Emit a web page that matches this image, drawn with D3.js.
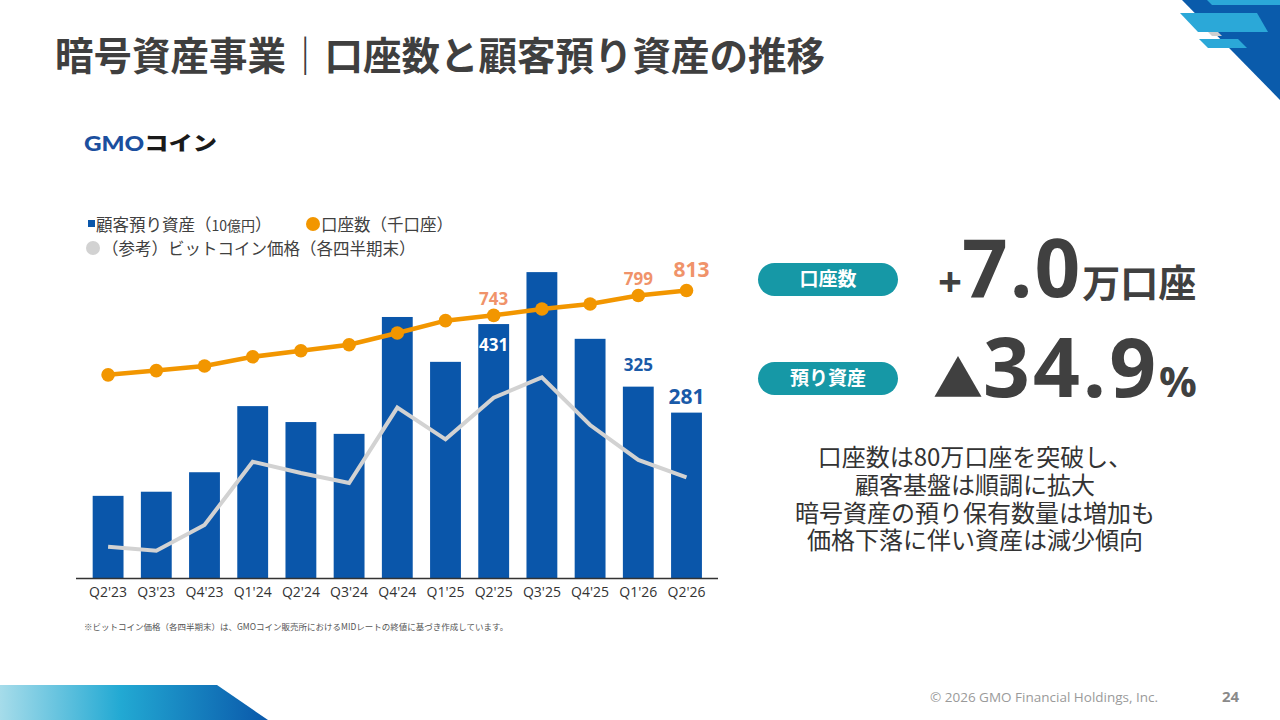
<!DOCTYPE html>
<html lang="ja">
<head>
<meta charset="utf-8">
<script src="https://cdn.jsdelivr.net/npm/d3@7"></script>
<style>
  html, body { margin: 0; padding: 0; background: #fff; }
  svg { display: block; }
  text { font-family: "Open Sans", "Noto Sans CJK JP", sans-serif; }
  .jp { font-family: "Noto Sans CJK JP", "Open Sans", sans-serif; }
</style>
</head>
<body>
<div id="chart"></div>
<script>
// quarters on the x axis
var quarters = ["Q2'23", "Q3'23", "Q4'23", "Q1'24", "Q2'24", "Q3'24", "Q4'24",
                "Q1'25", "Q2'25", "Q3'25", "Q4'25", "Q1'26", "Q2'26"];

// customer assets (10億円), bars
var assets = [140, 147, 180, 292, 265, 245, 443, 367, 431, 519, 406, 325, 281];

// accounts (千口座), orange line
var accounts = [575, 587, 600, 626, 643, 660, 693, 728, 743, 761, 775, 799, 813];

// bitcoin price at quarter end (万円), reference grey line
var btcPrice = [440, 410, 600, 1067, 984, 910, 1466, 1232, 1539, 1690, 1338, 1080, 952];

// which points get a value label
var assetLabels = { "Q2'25": "inside", "Q1'26": "above", "Q2'26": "above" };
var accountLabels = ["Q2'25", "Q1'26", "Q2'26"];

var summaryLines = ["口座数は80万口座を突破し、", "顧客基盤は順調に拡大",
                    "暗号資産の預り保有数量は増加も", "価格下落に伴い資産は減少傾向"];

var svgWidth = 1280;
var svgHeight = 720;

var blue = "#0a56aa";
var orange = "#f29600";
var orangeText = "#f0936a";
var grey = "#d2d2d2";
var teal = "#1698a6";
var dark = "#404040";

var svg = d3.select("#chart")
    .append("svg")
    .attr("width", svgWidth)
    .attr("height", svgHeight);

// ---- decorations ----
var defs = svg.append("defs");
var grad = defs.append("linearGradient").attr("id", "footGrad");
grad.append("stop").attr("offset", "0%").attr("stop-color", "#a6dcea");
grad.append("stop").attr("offset", "45%").attr("stop-color", "#22a9d3");
grad.append("stop").attr("offset", "100%").attr("stop-color", "#0a58aa");

svg.append("polygon")
    .attr("points", "0,685 217,685 268,720 0,720")
    .attr("fill", "url(#footGrad)");

svg.append("polygon")
    .attr("points", "1182,0 1280,0 1280,100")
    .attr("fill", "#0a5bab");
svg.append("polygon")
    .attr("points", "1207,0 1280,0 1280,5 1212,5")
    .attr("fill", "#2ba8d8");
svg.append("polygon")
    .attr("points", "1180,13 1257,13 1268,32 1198,32")
    .attr("fill", "#2ba8d8");
svg.append("polygon")
    .attr("points", "1199,39 1238,39 1247,48 1208,48")
    .attr("fill", "#2ba8d8");
svg.append("polygon")
    .attr("points", "1208,32 1218,32 1222,36 1212,36")
    .attr("fill", "#cfcfcf");

// ---- title ----
svg.append("text")
    .attr("class", "jp")
    .attr("x", 55)
    .attr("y", 70)
    .attr("font-size", 38.5)
    .attr("font-weight", 700)
    .attr("fill", "#3f3f3f")
    .text("暗号資産事業｜口座数と顧客預り資産の推移");

// logo
var logo = svg.append("text")
    .attr("x", 84)
    .attr("y", 151)
    .attr("font-size", 20)
    .attr("font-weight", 800)
    .attr("textLength", 133)
    .attr("lengthAdjust", "spacingAndGlyphs");
logo.append("tspan").attr("fill", "#1b4f9e").attr("font-family", "Lato, 'Open Sans', sans-serif").attr("font-weight", 900).text("GMO");
logo.append("tspan").attr("class", "jp").attr("fill", "#1a1a1a").attr("font-weight", 900).text("コイン");

// ---- legend ----
var legend = svg.append("g").attr("fill", dark);
legend.append("rect").attr("x", 88).attr("y", 220).attr("width", 7).attr("height", 7).attr("fill", blue);
var l1 = legend.append("text").attr("class", "jp").attr("x", 96).attr("y", 231).attr("font-size", 16.5);
l1.append("tspan").text("顧客預り資産（");
l1.append("tspan").attr("font-size", 14).text("10億円");
l1.append("tspan").text("）");
legend.append("circle").attr("cx", 313).attr("cy", 224).attr("r", 7).attr("fill", orange);
legend.append("text").attr("class", "jp").attr("x", 321).attr("y", 231).attr("font-size", 16.5).text("口座数（千口座）");
legend.append("circle").attr("cx", 93).attr("cy", 248).attr("r", 7).attr("fill", grey);
legend.append("text").attr("class", "jp").attr("x", 102).attr("y", 255).attr("font-size", 16.5).text("（参考）ビットコイン価格（各四半期末）");

// ---- chart ----
var baseY = 578.5;
var topY = 224.3;

var x = d3.scaleBand()
    .domain(quarters)
    .range([84, 710.6])
    .paddingInner(0.36)
    .paddingOuter(0.18);

var yAssets = d3.scaleLinear().domain([0, 600]).range([baseY, topY]);
var yAccounts = d3.scaleLinear().domain([0, 1000]).range([baseY, topY]);
var yBtc = d3.scaleLinear().domain([0, 2000]).range([606.3, 335.3]);

var chartGroup = svg.append("g");

chartGroup.selectAll("rect.bar")
    .data(quarters)
    .enter()
    .append("rect")
    .attr("class", "bar")
    .attr("x", d => x(d))
    .attr("width", x.bandwidth())
    .attr("y", (d, i) => yAssets(assets[i]))
    .attr("height", (d, i) => baseY - yAssets(assets[i]))
    .attr("fill", blue);

var cx = d => x(d) + x.bandwidth() / 2;

// bitcoin price line
var btcLine = d3.line()
    .x(d => cx(d))
    .y((d, i) => yBtc(btcPrice[i]));
chartGroup.append("path")
    .datum(quarters)
    .attr("d", btcLine)
    .attr("fill", "none")
    .attr("stroke", grey)
    .attr("stroke-width", 4);

// accounts line
var accLine = d3.line()
    .x(d => cx(d))
    .y((d, i) => yAccounts(accounts[i]));
chartGroup.append("path")
    .datum(quarters)
    .attr("d", accLine)
    .attr("fill", "none")
    .attr("stroke", orange)
    .attr("stroke-width", 4.5);

chartGroup.selectAll("circle.acc")
    .data(quarters)
    .enter()
    .append("circle")
    .attr("class", "acc")
    .attr("cx", d => cx(d))
    .attr("cy", (d, i) => yAccounts(accounts[i]))
    .attr("r", 6.8)
    .attr("fill", orange);

// x axis
var bottomAxis = d3.axisBottom(x).tickSize(0).tickPadding(9);
var xAxis = chartGroup.append("g")
    .attr("transform", `translate(0, ${baseY})`)
    .call(bottomAxis);
xAxis.select(".domain").remove();
xAxis.selectAll("text")
    .attr("font-family", "'Open Sans', sans-serif")
    .attr("font-size", 14)
    .attr("fill", "#333");
chartGroup.append("line")
    .attr("x1", 76).attr("x2", 718)
    .attr("y1", baseY).attr("y2", baseY)
    .attr("stroke", "#333")
    .attr("stroke-width", 1.3);

// value labels on the bars
quarters.forEach(function (q, i) {
    var pos = assetLabels[q];
    if (!pos) return;
    var last = i === quarters.length - 1;
    chartGroup.append("text")
        .attr("x", cx(q))
        .attr("y", pos === "inside" ? yAssets(assets[i]) + 27 : yAssets(assets[i]) - (last ? 9 : 16))
        .attr("text-anchor", "middle")
        .attr("font-size", last ? 21 : 17)
        .attr("font-weight", 700)
        .attr("fill", pos === "inside" ? "#fff" : "#1a5aa8")
        .text(assets[i]);
});

// value labels on the accounts line
accountLabels.forEach(function (q) {
    var i = quarters.indexOf(q);
    var last = i === quarters.length - 1;
    chartGroup.append("text")
        .attr("x", cx(q) + (last ? 5 : 0))
        .attr("y", yAccounts(accounts[i]) - (last ? 14 : 10))
        .attr("text-anchor", "middle")
        .attr("font-size", last ? 21 : 17)
        .attr("font-weight", 700)
        .attr("fill", orangeText)
        .text(accounts[i]);
});

// footnote
svg.append("text")
    .attr("class", "jp")
    .attr("x", 84)
    .attr("y", 630)
    .attr("font-size", 8.5)
    .attr("fill", "#555")
    .text("※ビットコイン価格（各四半期末）は、GMOコイン販売所におけるMIDレートの終値に基づき作成しています。");

// ---- right panel ----
function pill(y, label) {
    svg.append("rect")
        .attr("x", 758).attr("y", y)
        .attr("width", 140).attr("height", 33)
        .attr("rx", 16.5)
        .attr("fill", teal);
    svg.append("text")
        .attr("class", "jp")
        .attr("x", 828).attr("y", y + 23)
        .attr("text-anchor", "middle")
        .attr("font-size", 19)
        .attr("font-weight", 700)
        .attr("fill", "#fff")
        .text(label);
}
pill(263, "口座数");
pill(362, "預り資産");

var big1 = svg.append("text")
    .attr("x", 938).attr("y", 297)
    .attr("fill", dark)
    .attr("font-weight", 700);
big1.append("tspan").attr("font-size", 42).text("+");
big1.append("tspan").attr("font-size", 80).attr("letter-spacing", 2).text("7.0");
big1.append("tspan").attr("class", "jp").attr("font-size", 38).text("万口座");

var big2 = svg.append("text")
    .attr("x", 933).attr("y", 397)
    .attr("fill", dark)
    .attr("font-weight", 700);
big2.append("tspan").attr("class", "jp").attr("font-size", 50).text("▲");
big2.append("tspan").attr("font-size", 82).attr("letter-spacing", 3).text("34.9");
big2.append("tspan").attr("font-size", 42).text("%");

// summary paragraph, one text block with a line per tspan
svg.append("text")
    .attr("class", "jp")
    .attr("y", 466)
    .attr("text-anchor", "middle")
    .attr("font-size", 24)
    .attr("fill", "#333")
    .selectAll("tspan")
    .data(summaryLines)
    .enter()
    .append("tspan")
    .attr("x", 975)
    .attr("dy", (d, i) => i === 0 ? 0 : 27.8)
    .text(d => d);

// footer
svg.append("text")
    .attr("x", 930).attr("y", 702)
    .attr("font-size", 13.5)
    .attr("fill", "#9a9a9a")
    .text("© 2026 GMO Financial Holdings, Inc.");
svg.append("text")
    .attr("x", 1222).attr("y", 702)
    .attr("font-size", 15)
    .attr("font-weight", 700)
    .attr("fill", "#8a8a8a")
    .text("24");
</script>
</body>
</html>
